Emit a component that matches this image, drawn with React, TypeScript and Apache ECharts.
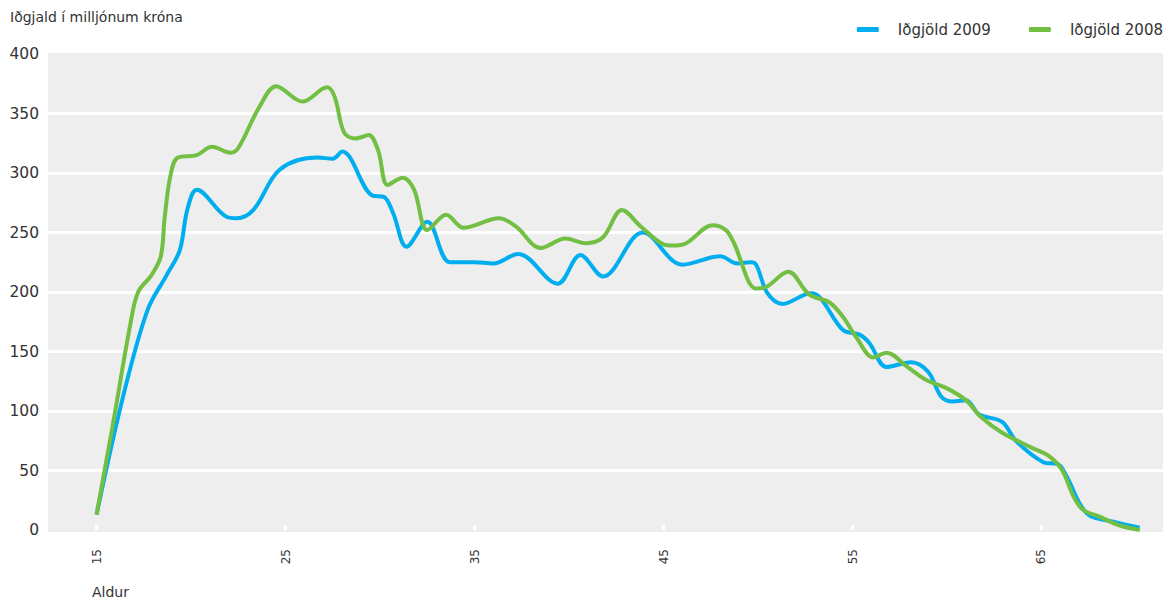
import React, { useEffect, useRef } from "react";
import * as echarts from "echarts";

const ages2009 = [15, 16.4, 17.7, 18.7, 19.4, 19.8, 20.3, 21.9, 22.4, 23.3, 24.7, 26.7, 27.5, 28.0, 29.6, 30.2, 30.7, 31.4, 32.5, 33.7, 35.0, 36.0, 37.3, 39.4, 40.6, 41.8, 43.9, 46.0, 48.0, 48.9, 49.6, 49.9, 50.5, 51.3, 52.8, 53.3, 54.5, 55.4, 55.9, 56.8, 58.1, 59.0, 59.7, 60.3, 61.0, 61.7, 62.9, 63.7, 65.1, 65.9, 66.3, 67.4, 68.8, 70.2];
const values2009 = [13, 112, 185, 214, 235, 269, 286, 263, 262, 269, 303, 313, 312, 318, 281, 280, 266, 238, 259, 225, 225, 224, 232, 207, 231, 213, 250, 223, 230, 224, 225, 223, 199, 190, 199, 195, 168, 164, 157, 137, 141, 133, 112, 108, 109, 97, 91, 74, 57, 55, 46, 14, 7, 2];

const ages2008 = [15, 15.9, 16.8, 17.2, 17.9, 18.4, 18.6, 18.9, 19.3, 20.3, 21.1, 22.1, 22.5, 23.6, 24.5, 25.9, 27.2, 27.6, 28.1, 28.7, 29.4, 29.9, 30.4, 31.2, 31.8, 32.5, 33.5, 34.4, 36.3, 37.2, 38.5, 39.8, 40.9, 41.8, 42.8, 43.8, 45.0, 45.5, 46.2, 47.6, 48.3, 48.7, 49.9, 50.4, 51.6, 52.7, 53.8, 54.5, 55.2, 56.1, 56.8, 57.9, 58.9, 60.0, 61.0, 61.8, 62.9, 64.5, 65.4, 66.1, 66.7, 67.2, 68.1, 69.1, 70.2];
const values2008 = [13, 92, 174, 200, 214, 230, 262, 297, 313, 315, 322, 317, 321, 355, 373, 360, 372, 364, 334, 329, 332, 319, 290, 296, 286, 252, 265, 254, 262, 255, 237, 245, 241, 246, 269, 255, 240, 239, 241, 256, 252, 242, 203, 204, 217, 198, 191, 179, 162, 145, 149, 137, 126, 119, 109, 95, 82, 69, 62, 50, 28, 17, 11, 4, 0];

const xTicks = [15, 25, 35, 45, 55, 65];
const seriesNames = ["Iðgjöld 2009", "Iðgjöld 2008"];
const colors = ["#00aeef", "#72bf44"];

const FONT = "'DejaVu Sans', sans-serif";

export default function App() {
  const ref = useRef<HTMLDivElement>(null);
  useEffect(() => {
    document.body.style.margin = "0";
    const chart = echarts.init(ref.current!, null, { renderer: "svg" });
    const pairs = (xs: number[], ys: number[]) => xs.map((x, i) => [x, ys[i]]);
    chart.setOption({
      animation: false,
      textStyle: { fontFamily: FONT },
      grid: {
        left: 48,
        right: 7,
        top: 54,
        bottom: 71,
        show: true,
        backgroundColor: "#eeeeee",
        borderWidth: 0,
      },
      legend: {
        right: 2,
        top: 17,
        icon: "roundRect",
        itemWidth: 22,
        itemHeight: 5,
        itemGap: 38,
        data: seriesNames,
        textStyle: { fontFamily: FONT, fontSize: 15, color: "#333", padding: [0, 0, 0, 14] },
      },
      xAxis: {
        type: "value",
        min: 12.43,
        max: 71.43,
        axisLine: { show: false },
        splitLine: { show: false },
        axisTick: {
          show: true,
          inside: true,
          length: 5,
          customValues: xTicks,
          lineStyle: { color: "#ffffff", width: 3 },
        },
        axisLabel: {
          customValues: xTicks,
          rotate: 90,
          margin: 19,
          fontSize: 12,
          color: "#333",
          fontFamily: FONT,
        },
      },
      yAxis: {
        type: "value",
        min: 0,
        max: 400,
        interval: 50,
        axisLine: { show: false },
        axisTick: { show: false },
        axisLabel: { fontSize: 15.5, color: "#333", margin: 9, fontFamily: FONT },
        splitLine: {
          lineStyle: {
            color: ["#eeeeee", "#ffffff", "#ffffff", "#ffffff", "#ffffff", "#ffffff", "#ffffff", "#ffffff", "#eeeeee"],
            width: 3,
          },
        },
      },
      graphic: [
        {
          type: "text",
          left: 10,
          top: 10,
          style: { text: "Iðgjald í milljónum króna", fontSize: 14, fill: "#333", fontFamily: FONT },
        },
        {
          type: "text",
          left: 92,
          top: 585,
          style: { text: "Aldur", fontSize: 14, fill: "#333", fontFamily: FONT },
        },
      ],
      series: [
        {
          name: seriesNames[0],
          type: "line",
          data: pairs(ages2009, values2009),
          smooth: 0.35,
          showSymbol: false,
          lineStyle: { color: colors[0], width: 4 },
          itemStyle: { color: colors[0] },
        },
        {
          name: seriesNames[1],
          type: "line",
          data: pairs(ages2008, values2008),
          smooth: 0.35,
          showSymbol: false,
          lineStyle: { color: colors[1], width: 4 },
          itemStyle: { color: colors[1] },
        },
      ],
    });
    return () => chart.dispose();
  }, []);
  return <div ref={ref} style={{ width: 1170, height: 601 }} />;
}
